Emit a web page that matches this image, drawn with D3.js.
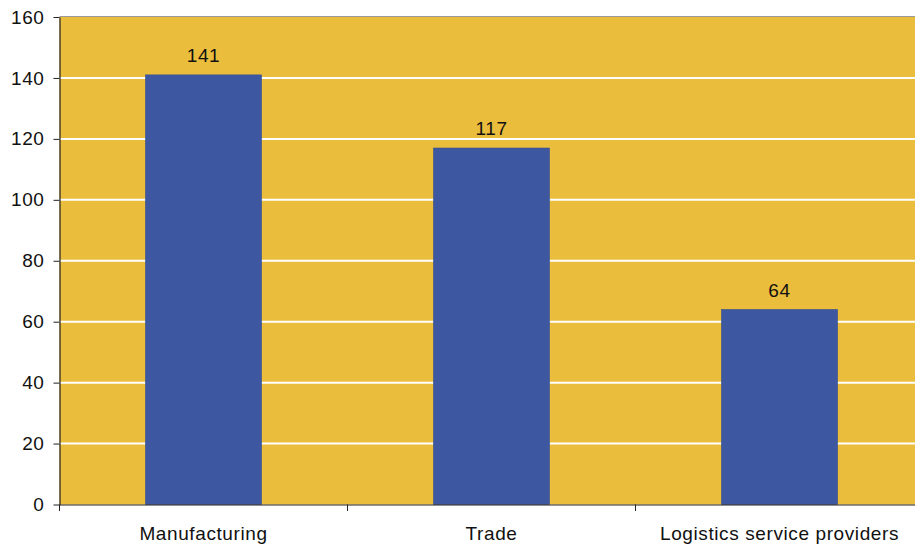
<!DOCTYPE html>
<html><head><meta charset="utf-8">
<script src="https://cdn.jsdelivr.net/npm/d3@7"></script>
<style>body{margin:0;background:#fff}svg{display:block;font-family:"Liberation Sans",Arial,sans-serif}</style>
</head><body><div id="chart"></div>
<script>
const categories = ["Manufacturing", "Trade", "Logistics service providers"];
const values = [141, 117, 64];
const yTicks = [0, 20, 40, 60, 80, 100, 120, 140, 160];

const W = 915, H = 548;
const m = {left: 59.5, top: 17, bottom: 43};
const plotW = 864;
const FS = 19, LS = "0.6px";
const svg = d3.select("#chart").append("svg").attr("width", W).attr("height", H);

const x = d3.scaleBand().domain(categories).range([m.left, m.left + plotW]).paddingInner(0.597).paddingOuter(0.2985);
const xb = d3.scaleBand().domain(categories).range([m.left, m.left + plotW]);
const y = d3.scaleLinear().domain([0, 160]).range([H - m.bottom - 0.5, m.top]);

svg.append("rect").attr("x", m.left).attr("y", m.top).attr("width", plotW).attr("height", y(0) - m.top).attr("fill", "#EBBD3D");
svg.append("line").attr("x1", m.left).attr("x2", W).attr("y1", m.top - 0.5).attr("y2", m.top - 0.5).attr("stroke", "#9a9a9a").attr("stroke-width", 1.2);

svg.append("g").selectAll("line").data(yTicks.filter(d => d > 0 && d < 160)).join("line")
  .attr("x1", m.left).attr("x2", W).attr("y1", d => y(d)).attr("y2", d => y(d))
  .attr("stroke", "#fff").attr("stroke-width", 2);

svg.append("g").selectAll("rect").data(values).join("rect")
  .attr("x", (d, i) => x(categories[i])).attr("width", x.bandwidth())
  .attr("y", d => y(d)).attr("height", d => y(0) - y(d))
  .attr("fill", "#3D58A0").attr("stroke", "#34508f").attr("stroke-width", 0.6);

svg.append("g").selectAll("text").data(values).join("text")
  .attr("x", (d, i) => x(categories[i]) + x.bandwidth() / 2).attr("y", d => y(d) - 13)
  .attr("text-anchor", "middle").attr("font-size", FS).attr("letter-spacing", LS).attr("fill", "#111").text(d => d);

const ya = svg.append("g").attr("transform", `translate(${m.left},0)`)
  .call(d3.axisLeft(y).tickValues(yTicks).tickSize(6).tickSizeOuter(0).tickPadding(9));
ya.select(".domain").attr("stroke", "#222").attr("stroke-width", 1.2);
ya.selectAll(".tick line").attr("stroke", "#222");
ya.selectAll("text").attr("font-size", FS).attr("letter-spacing", LS).attr("fill", "#111").attr("font-family", "Liberation Sans, Arial, sans-serif");

const xa = svg.append("g").attr("transform", `translate(0,${y(0)})`)
  .call(d3.axisBottom(xb).tickSize(0).tickPadding(22).tickSizeOuter(0));
xa.select(".domain").attr("stroke", "#222").attr("stroke-width", 1.2);
xa.selectAll("text").attr("font-size", FS).attr("letter-spacing", LS).attr("fill", "#111").attr("font-family", "Liberation Sans, Arial, sans-serif");
const bounds = [m.left + plotW / 3, m.left + 2 * plotW / 3, m.left];
svg.append("g").selectAll("line").data(bounds).join("line")
  .attr("x1", d => d).attr("x2", d => d).attr("y1", y(0)).attr("y2", y(0) + 6.5)
  .attr("stroke", "#222");
</script></body></html>
